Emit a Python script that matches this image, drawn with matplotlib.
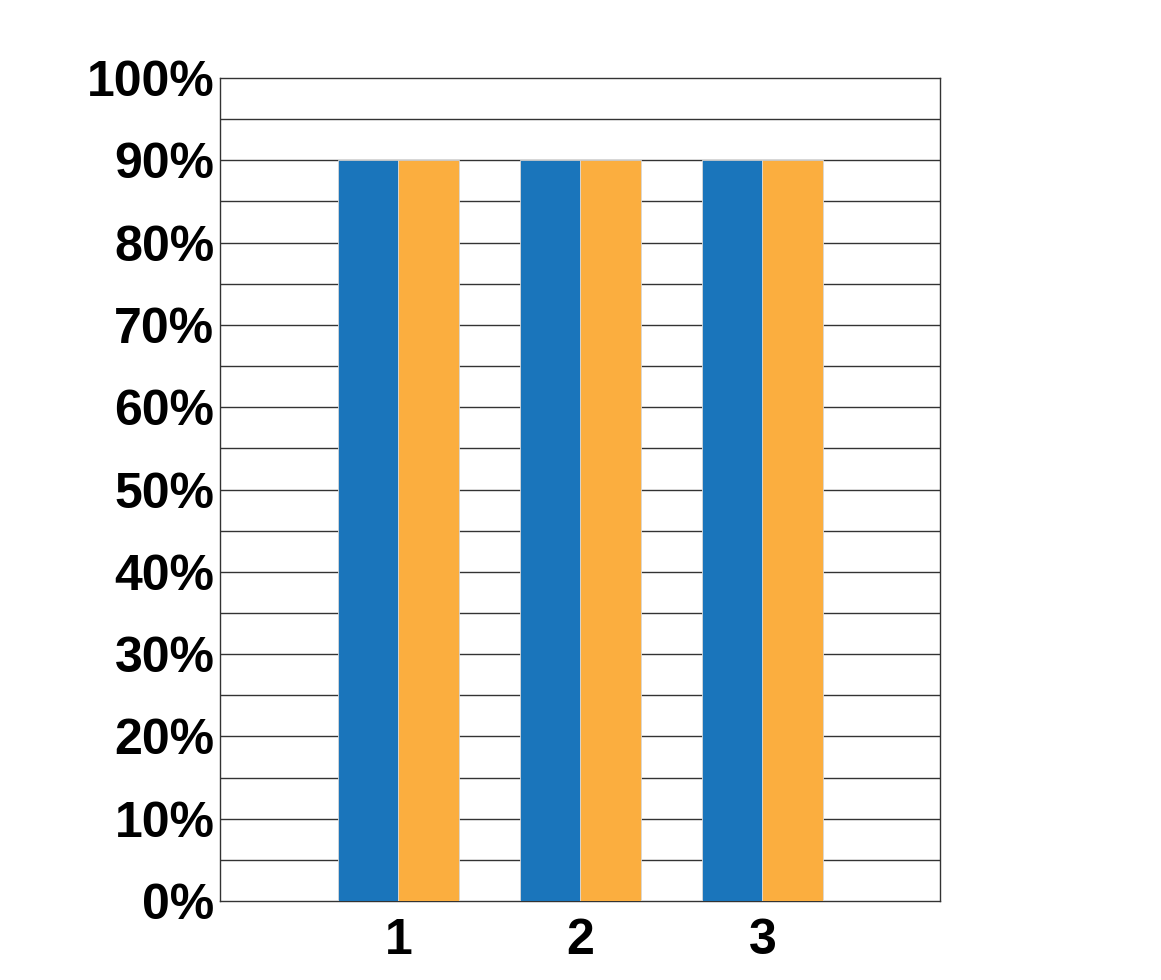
import matplotlib.pyplot as plt
import numpy as np

groups = [1, 2, 3]
series_a = [0.90, 0.90, 0.90]
series_b = [0.90, 0.90, 0.90]
y_ticks = [0.0, 0.1, 0.2, 0.3, 0.4, 0.5, 0.6, 0.7, 0.8, 0.9, 1.0]
y_labels = ['0%', '10%', '20%', '30%', '40%', '50%', '60%', '70%', '80%', '90%', '100%']
grid_lines = np.arange(0.05, 1.0, 0.05)

plt.rcParams['font.family'] = ['Liberation Sans', 'DejaVu Sans']

fig = plt.figure(figsize=(11.61, 9.80), dpi=100)
ax = fig.add_axes([0.1895, 0.0806, 0.6201, 0.8398])

w = 1 / 3
x = np.array(groups, dtype=float)
ax.bar(x - w / 2, series_a, width=w, color='#1a75bb', edgecolor='#d8d8d8', linewidth=0.6, zorder=3)
ax.bar(x + w / 2, series_b, width=w, color='#fbae3f', edgecolor='#d8d8d8', linewidth=0.6, zorder=3)

for g in grid_lines:
	ax.axhline(g, color='#333333', linewidth=1.0, zorder=1)

ax.set_xlim(0.02, 3.975)
ax.set_ylim(0, 1)
ax.set_xticks(groups)
ax.set_xticklabels([str(g) for g in groups])
ax.set_yticks(y_ticks)
ax.set_yticklabels(y_labels)
ax.tick_params(axis='both', length=0, labelsize=36)
ax.tick_params(axis='y', pad=4)
ax.tick_params(axis='x', pad=12)
for lbl in ax.get_xticklabels() + ax.get_yticklabels():
	lbl.set_fontweight('bold')
for s in ax.spines.values():
	s.set_color('#333333')
	s.set_linewidth(1.0)

fig.savefig('out.png', dpi=100)
